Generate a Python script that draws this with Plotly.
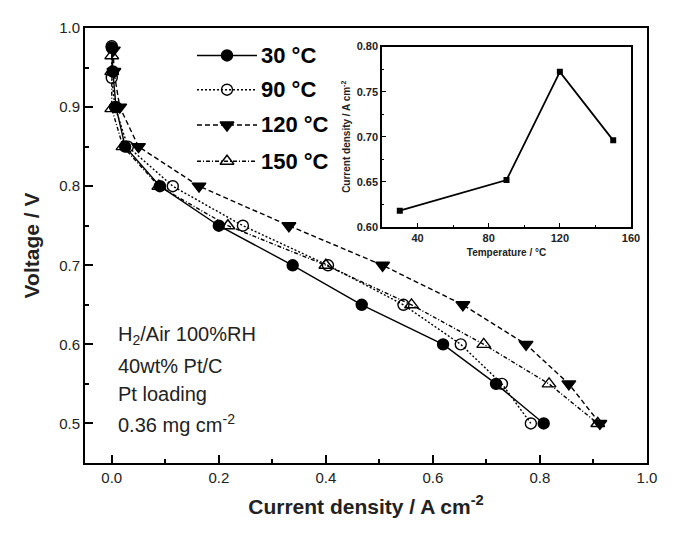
import plotly.graph_objects as go

# ---- data ----
V_30 = [0.975, 0.945, 0.900, 0.850, 0.800, 0.750, 0.700, 0.650, 0.600, 0.550, 0.500]
I_30 = [0.000, 0.002, 0.008, 0.025, 0.090, 0.200, 0.338, 0.467, 0.619, 0.718, 0.807]
V_90 = [0.977, 0.937, 0.900, 0.850, 0.800, 0.750, 0.700, 0.650, 0.600, 0.550, 0.500]
I_90 = [0.000, 0.000, 0.006, 0.030, 0.114, 0.245, 0.404, 0.545, 0.652, 0.729, 0.783]
V_120 = [0.972, 0.945, 0.900, 0.850, 0.800, 0.750, 0.700, 0.650, 0.600, 0.550, 0.500]
I_120 = [0.003, 0.004, 0.015, 0.050, 0.163, 0.331, 0.506, 0.656, 0.774, 0.854, 0.912]
V_150 = [0.965, 0.945, 0.898, 0.850, 0.800, 0.750, 0.700, 0.650, 0.600, 0.550, 0.500]
I_150 = [0.000, 0.000, 0.000, 0.021, 0.088, 0.217, 0.400, 0.560, 0.695, 0.817, 0.908]

inset_T = [30, 90, 120, 150]
inset_I = [0.618, 0.652, 0.772, 0.696]

labels = ["30 °C", "90 °C", "120 °C", "150 °C"]
FONT = "Arial, Liberation Sans, sans-serif"

styles = [
    dict(dash="solid", symbol="circle"),
    dict(dash="2px,2px", symbol="circle-open"),
    dict(dash="5px,3px", symbol="triangle-down"),
    dict(dash="4px,2px,1px,2px", symbol="triangle-up-open"),
]
series = [(I_30, V_30), (I_90, V_90), (I_120, V_120), (I_150, V_150)]

def msize(sym):
    return 12 if "triangle" in sym else 11

fig = go.Figure()
for (xs, ys), st, lab in zip(series, styles, labels):
    fig.add_trace(go.Scatter(
        x=xs, y=ys, mode="lines+markers", name=lab, showlegend=False,
        line=dict(color="black", width=1.4, dash=st["dash"]),
        marker=dict(symbol=st["symbol"], size=msize(st["symbol"]),
                    color="black", line=dict(color="black", width=1.4)),
        xaxis="x", yaxis="y"))

# inset
fig.add_trace(go.Scatter(
    x=inset_T, y=inset_I, mode="lines+markers", showlegend=False,
    line=dict(color="black", width=1.8),
    marker=dict(symbol="square", size=6, color="black"),
    xaxis="x2", yaxis="y2"))

# target pixel frame of the main plot area (in a 674x535 window)
OFF = 8  # page body margin
W, H = 674, 535
L, R, T, B = 85, 647, 19, 463

# manual legend (overlay axis in pixel units)
leg_rows = [47, 82, 118, 155]
for st, lab, yr in zip(styles, labels, leg_rows):
    fig.add_trace(go.Scatter(
        x=[197, 257], y=[yr, yr], mode="lines", showlegend=False,
        line=dict(color="black", width=1.4, dash=st["dash"]),
        xaxis="x3", yaxis="y3", hoverinfo="skip"))
    fig.add_trace(go.Scatter(
        x=[227], y=[yr], mode="markers", showlegend=False,
        marker=dict(symbol=st["symbol"], size=msize(st["symbol"]),
                    color="black", line=dict(color="black", width=1.4)),
        xaxis="x3", yaxis="y3", hoverinfo="skip"))
    fig.add_annotation(x=259, y=yr, xref="x3", yref="y3", text="<b>%s</b>" % lab,
                       showarrow=False, xanchor="left", yanchor="middle",
                       font=dict(family=FONT, size=22, color="black"))

# condition text
cond = ["H<sub>2</sub>/Air 100%RH", "40wt% Pt/C", "Pt loading", "0.36 mg cm<sup>-2</sup>"]
cond_rows = [333, 364, 393, 423]
for t, yr in zip(cond, cond_rows):
    fig.add_annotation(x=116, y=yr, xref="x3", yref="y3", text=t, showarrow=False,
                       xanchor="left", yanchor="middle",
                       font=dict(family=FONT, size=20, color="#222"))

px = lambda v: (v - L) / (R - L)
py = lambda v: (B - v) / (B - T)

fig.update_layout(
    width=W - OFF, height=H - OFF,
    margin=dict(l=L - OFF, r=W - R, t=T - OFF, b=H - B),
    paper_bgcolor="white", plot_bgcolor="white",
    font=dict(family=FONT, color="#222"),
    xaxis=dict(range=[-0.05, 1.0], tickvals=[0, 0.2, 0.4, 0.6, 0.8, 1.0],
               ticktext=["0.0", "0.2", "0.4", "0.6", "0.8", "1.0"],
               ticks="inside", ticklen=8, tickwidth=1.5, tickcolor="black",
               minor=dict(dtick=0.1, ticks="inside", ticklen=4, tickwidth=1.5, tickcolor="black"),
               showline=True, linecolor="black", linewidth=2, mirror=True,
               showgrid=False, zeroline=False,
               tickfont=dict(size=15, color="#222"),
               title=dict(text="<b>Current density / A cm<sup>-2</sup></b>",
                          font=dict(size=21, color="#222"), standoff=14)),
    yaxis=dict(range=[0.45, 1.0], tickvals=[0.5, 0.6, 0.7, 0.8, 0.9, 1.0],
               ticktext=["0.5", "0.6", "0.7", "0.8", "0.9", "1.0"],
               ticks="inside", ticklen=8, tickwidth=1.5, tickcolor="black",
               minor=dict(dtick=0.05, ticks="inside", ticklen=4, tickwidth=1.5, tickcolor="black"),
               showline=True, linecolor="black", linewidth=2, mirror=True,
               showgrid=False, zeroline=False,
               tickfont=dict(size=15, color="#222"),
               title=dict(text="<b>Voltage / V</b>", font=dict(size=21, color="#222"), standoff=14)),
    xaxis2=dict(domain=[px(382), px(631)], anchor="y2", range=[20, 160],
                tickvals=[40, 80, 120, 160],
                ticktext=["<b>40</b>", "<b>80</b>", "<b>120</b>", "<b>160</b>"],
                ticks="inside", ticklen=4, tickwidth=1, tickcolor="black",
                minor=dict(dtick=20, ticks="inside", ticklen=2, tickcolor="black"),
                showline=True, linecolor="black", linewidth=1.5, mirror=True,
                showgrid=False, zeroline=False,
                tickfont=dict(size=11, color="#222"),
                title=dict(text="<b>Temperature / °C</b>", font=dict(size=10, color="#222"), standoff=6)),
    yaxis2=dict(domain=[py(222), py(38)], anchor="x2", range=[0.60, 0.80],
                tickvals=[0.60, 0.65, 0.70, 0.75, 0.80],
                ticktext=["<b>0.60</b>", "<b>0.65</b>", "<b>0.70</b>", "<b>0.75</b>", "<b>0.80</b>"],
                ticks="inside", ticklen=4, tickwidth=1, tickcolor="black",
                minor=dict(dtick=0.025, ticks="inside", ticklen=2, tickcolor="black"),
                showline=True, linecolor="black", linewidth=1.5, mirror=True,
                showgrid=False, zeroline=False,
                tickfont=dict(size=11, color="#222"),
                title=dict(text="<b>Current density / A cm<sup>-2</sup></b>",
                           font=dict(size=10, color="#222"), standoff=4)),
    xaxis3=dict(domain=[0, 1], anchor="y3", overlaying="x", range=[L, R], visible=False),
    yaxis3=dict(domain=[0, 1], anchor="x3", overlaying="y", range=[B, T], visible=False),
)

fig.write_html("out.html")
